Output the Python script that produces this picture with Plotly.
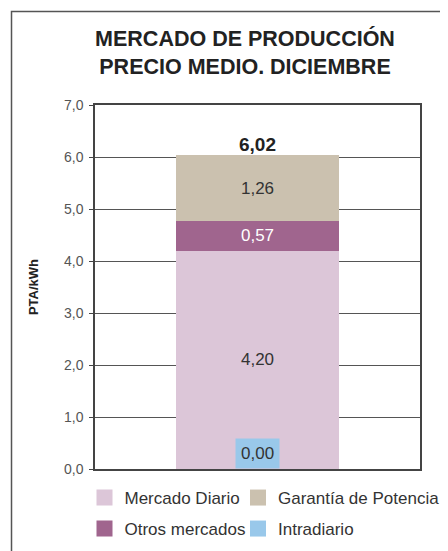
import plotly.graph_objects as go

category = ["Diciembre"]
series_names = ["Mercado Diario", "Otros mercados", "Garantía de Potencia", "Intradiario"]
mercado_diario = [4.20]
otros_mercados = [0.57]
garantia_potencia = [1.26]
intradiario = [0.00]
total = [6.02]
colors = {
    "Mercado Diario": "#DCC6D8",
    "Otros mercados": "#A0658E",
    "Garantía de Potencia": "#CBC1AF",
    "Intradiario": "#99C8EA",
}
legend_order = ["Mercado Diario", "Garantía de Potencia", "Otros mercados", "Intradiario"]
ytick_vals = [0, 1, 2, 3, 4, 5, 6, 7]

FONT = "Liberation Sans, Arial, sans-serif"
W, H = 440, 543  # page body has an 8px margin

values = {
    "Mercado Diario": mercado_diario,
    "Otros mercados": otros_mercados,
    "Garantía de Potencia": garantia_potencia,
    "Intradiario": intradiario,
}
text_colors = {
    "Mercado Diario": "#333333",
    "Otros mercados": "#FFFFFF",
    "Garantía de Potencia": "#333333",
    "Intradiario": "#333333",
}

fig = go.Figure()
for name in series_names:
    show_text = name != "Intradiario"
    fig.add_trace(go.Bar(
        x=category, y=values[name], name=name,
        marker=dict(color=colors[name], line=dict(width=0)),
        width=0.5,
        texttemplate="%{y:.2f}" if show_text else "",
        textposition="inside", insidetextanchor="middle",
        textfont=dict(family=FONT, size=17, color=text_colors[name]),
        showlegend=False, hoverinfo="skip",
    ))

legend_ids = ["legend", "legend2", "legend3", "legend4"]
for legend_id, name in zip(legend_ids, legend_order):
    fig.add_trace(go.Scatter(
        x=[None], y=[None], mode="markers", name=name,
        marker=dict(symbol="square", size=16, color=colors[name]),
        showlegend=True, legend=legend_id,
    ))

# total label
fig.add_annotation(x=category[0], y=total[0], text="<b>" + f"{total[0]:.2f}".replace(".", ",") + "</b>",
                   showarrow=False, yanchor="bottom", yshift=-1,
                   font=dict(family=FONT, size=19, color="#222222"))
# intradiario label with background
fig.add_annotation(x=category[0], y=intradiario[0], text=f"{intradiario[0]:.2f}".replace(".", ","),
                   showarrow=False, yanchor="bottom", bgcolor=colors["Intradiario"], borderpad=5,
                   font=dict(family=FONT, size=17, color="#333333"))

# outer frame (top and left visible)
fig.add_shape(type="rect", xref="paper", yref="paper",
              x0=-0.2569, x1=1.12, y0=-0.26, y1=1.2569,
              line=dict(color="#555555", width=1.5), layer="below")

legend_common = dict(orientation="h", xref="container", yref="container",
                     xanchor="left", yanchor="top", traceorder="normal",
                     font=dict(family=FONT, size=17, color="#333333"),
                     itemsizing="trace", bgcolor="rgba(0,0,0,0)")
col_x = [76.5, 230]
row_y = [472, 503]
legend_layout = {}
for i, legend_id in enumerate(legend_ids):
    legend_layout[legend_id] = dict(x=col_x[i % 2] / W, y=1 - row_y[i // 2] / H, **legend_common)

fig.update_layout(
    width=W, height=H,
    margin=dict(l=87, r=28, t=97, b=82, autoexpand=False),
    paper_bgcolor="white", plot_bgcolor="white",
    separators=",.",
    barmode="stack",
    title=dict(text="<b>MERCADO DE PRODUCCIÓN<br>PRECIO MEDIO. DICIEMBRE</b>",
               x=237 / W, xanchor="center", y=1 - 38 / H, yanchor="top",
               xref="container", yref="container",
               font=dict(family=FONT, size=21.5, color="#222222")),
    font=dict(family=FONT, color="#333333"),
    xaxis=dict(showticklabels=False, ticks="", showgrid=False,
               showline=True, linecolor="#444444", linewidth=1.5, mirror=True,
               range=[-0.5, 0.5]),
    yaxis=dict(range=[0, 7], tickvals=ytick_vals, tickformat=".1f",
               ticks="outside", ticklen=4, tickcolor="#444444", ticklabelstandoff=3,
               tickfont=dict(family=FONT, size=14, color="#555555"),
               showgrid=True, gridcolor="#555555", gridwidth=1,
               showline=True, linecolor="#444444", linewidth=1.5, mirror=True,
               zeroline=False,
               title=dict(text="<b>PTA/kWh</b>", standoff=22,
                          font=dict(family=FONT, size=13, color="#222222"))),
    **legend_layout,
)

fig.write_html("out.html")
